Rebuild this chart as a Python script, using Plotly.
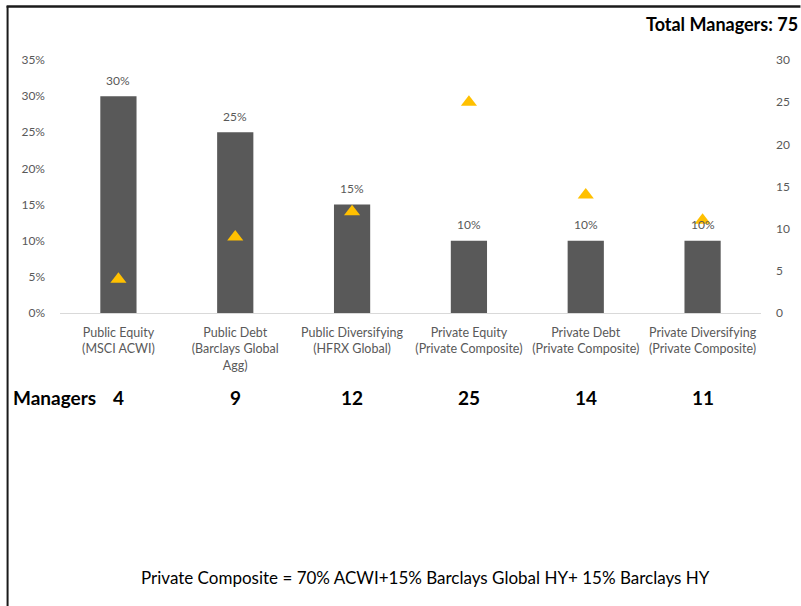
import plotly.graph_objects as go

# Asset classes with their benchmark in parentheses
categories = [
    "Public Equity<br>(MSCI ACWI)",
    "Public Debt<br>(Barclays Global<br>Agg)",
    "Public Diversifying<br>(HFRX Global)",
    "Private Equity<br>(Private Composite)",
    "Private Debt<br>(Private Composite)",
    "Private Diversifying<br>(Private Composite)",
]
allocation = [0.30, 0.25, 0.15, 0.10, 0.10, 0.10]   # target weight (left axis)
managers = [4, 9, 12, 25, 14, 11]                    # manager count (right axis)
total_managers = 75
footnote = "Private Composite = 70% ACWI+15% Barclays Global HY+ 15% Barclays HY"

FONT = "Lato"
GRAY = "#595959"

W, H = 801, 606
L, R, T, B = 59.5, 39.5, 60, 293
pw, ph = W - L - R, H - T - B


def px_x(px):
    return (px - L) / pw


def px_y(py):
    return (H - B - py) / ph


x_idx = list(range(len(categories)))

fig = go.Figure()

fig.add_trace(go.Bar(
    x=x_idx, y=allocation, width=0.31,
    marker=dict(color="#595959", line=dict(width=0)),
    yaxis="y", hoverinfo="skip", showlegend=False,
))

fig.add_trace(go.Scatter(
    x=x_idx, y=managers, mode="markers", yaxis="y2",
    marker=dict(symbol="triangle-up", size=14, color="#FFC000", line=dict(width=0)),
    hoverinfo="skip", showlegend=False,
))

annotations = []
# Percent labels above each bar
for i, v in enumerate(allocation):
    annotations.append(dict(
        x=i, y=v, xref="x", yref="y", text=f"{v:.0%}", showarrow=False,
        yshift=16, yanchor="middle", font=dict(family=FONT, size=12, color=GRAY),
    ))
# Manager counts row
annotations.append(dict(
    x=px_x(10.5), y=px_y(397), xref="paper", yref="paper", text="<b>Managers</b>",
    showarrow=False, xanchor="left", yanchor="middle",
    font=dict(family=FONT, size=19, color="black"),
))
for i, m in enumerate(managers):
    annotations.append(dict(
        x=i, y=px_y(397), xref="x", yref="paper", text=f"<b>{m}</b>", showarrow=False,
        yanchor="middle", font=dict(family=FONT, size=19, color="black"),
    ))
# Total in the top-right corner
annotations.append(dict(
    x=px_x(801), y=px_y(24), xref="paper", yref="paper",
    text=f"<b>Total Managers: {total_managers}</b>",
    showarrow=False, xanchor="right", yanchor="middle",
    font=dict(family=FONT, size=18, color="black"),
))
# Benchmark definition footnote
annotations.append(dict(
    x=px_x(426), y=px_y(578), xref="paper", yref="paper", text=footnote, showarrow=False,
    yanchor="middle", font=dict(family=FONT, size=17, color="black"),
))

# Frame lines along the top and left edges
shapes = [
    dict(type="line", xref="paper", yref="paper", x0=px_x(6), y0=px_y(6.5),
         x1=px_x(801), y1=px_y(6.5), line=dict(color="#1a1a1a", width=2.5)),
    dict(type="line", xref="paper", yref="paper", x0=px_x(7), y0=px_y(6),
         x1=px_x(7), y1=px_y(606), line=dict(color="#1a1a1a", width=2)),
]

fig.update_layout(
    width=W, height=H,
    margin=dict(l=L, r=R, t=T, b=B, pad=0),
    paper_bgcolor="white", plot_bgcolor="white",
    font=dict(family=FONT, color=GRAY),
    xaxis=dict(
        tickmode="array", tickvals=x_idx, ticktext=categories,
        range=[-0.5, len(categories) - 0.5],
        showgrid=False, zeroline=False, showline=True, linecolor="#d9d9d9", linewidth=1,
        ticks="", tickfont=dict(family=FONT, size=12.5, color=GRAY), ticklabelstandoff=8,
    ),
    yaxis=dict(
        range=[0, 0.35], dtick=0.05, tickformat=".0%", showgrid=False, zeroline=False,
        showline=False, ticks="", tickfont=dict(family=FONT, size=12, color=GRAY),
        ticklabelstandoff=14,
    ),
    yaxis2=dict(
        range=[0, 30], dtick=5, overlaying="y", side="right", showgrid=False,
        zeroline=False, showline=False, ticks="",
        tickfont=dict(family=FONT, size=12, color=GRAY), ticklabelstandoff=14,
    ),
    annotations=annotations,
    shapes=shapes,
)

fig.write_html("out.html")
